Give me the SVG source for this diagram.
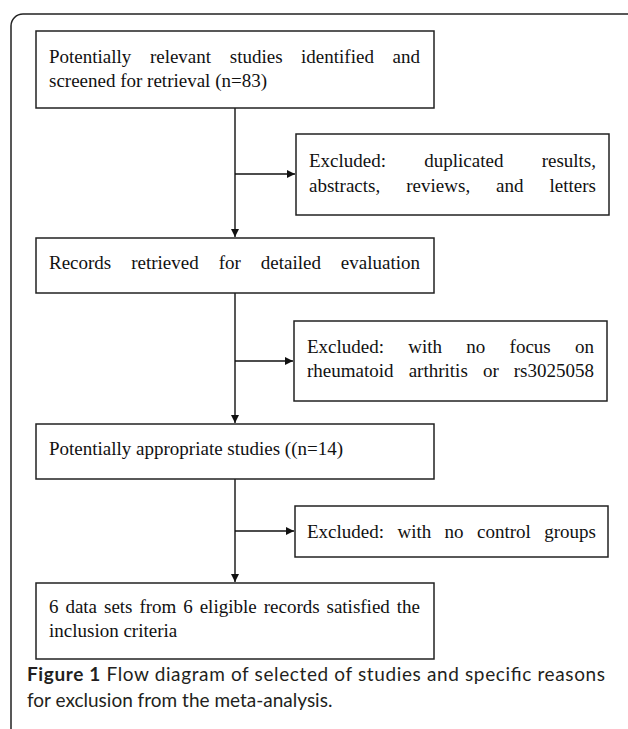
<svg xmlns="http://www.w3.org/2000/svg" width="628" height="729" viewBox="0 0 628 729">
<defs>
<marker id="ah" viewBox="0 0 10 10" refX="10" refY="5" markerWidth="8" markerHeight="8" markerUnits="userSpaceOnUse" orient="auto">
<path d="M0,0 L10,5 L0,10 Z" fill="#111"/>
</marker>
<style>
.box{fill:#fff;stroke:#222;stroke-width:1.5}
.t{font-family:"Liberation Serif","Times New Roman",serif;font-size:19px;fill:#111}
.e{text-anchor:end}
.c{fill:none;stroke:#111;stroke-width:1.4}
.cap{font-family:Lato,"Noto Sans",sans-serif;font-size:19px;fill:#231f20}
</style>
</defs>
<rect width="628" height="729" fill="#fff"/>
<path d="M11,729 V26 A12,12 0 0 1 23,14 H628" fill="none" stroke="#222" stroke-width="1.5"/>

<g id="connectors">
<path class="c" d="M235,108 V237" marker-end="url(#ah)"/>
<path class="c" d="M235,174 H295" marker-end="url(#ah)"/>
<path class="c" d="M235,293 V423" marker-end="url(#ah)"/>
<path class="c" d="M235,361 H293" marker-end="url(#ah)"/>
<path class="c" d="M235,479 V582" marker-end="url(#ah)"/>
<path class="c" d="M235,531 H294" marker-end="url(#ah)"/>
</g>

<g id="n1">
<rect class="box" x="36" y="31" width="398" height="77"/>
<text class="t" y="63"><tspan x="49">Potentially</tspan><tspan x="149.9">relevant</tspan><tspan x="229.8">studies</tspan><tspan x="301.1">identified</tspan></text>
<text class="t e" x="420" y="63">and</text>
<text class="t" x="49" y="87">screened for retrieval (n=83)</text>
</g>

<g id="x1">
<rect class="box" x="296" y="134" width="313" height="81"/>
<text class="t" y="167"><tspan x="309">Excluded:</tspan><tspan x="424.3">duplicated</tspan></text>
<text class="t e" x="596" y="167">results,</text>
<text class="t" y="192"><tspan x="309">abstracts,</tspan><tspan x="406.3">reviews,</tspan><tspan x="496.1">and</tspan></text>
<text class="t e" x="596" y="192">letters</text>
</g>

<g id="n2">
<rect class="box" x="36" y="238" width="398" height="55"/>
<text class="t" y="269"><tspan x="49">Records</tspan><tspan x="131.2">retrieved</tspan><tspan x="218.7">for</tspan><tspan x="260.8">detailed</tspan></text>
<text class="t e" x="420" y="269">evaluation</text>
</g>

<g id="x2">
<rect class="box" x="294" y="321" width="313" height="80"/>
<text class="t" y="353"><tspan x="307">Excluded:</tspan><tspan x="408.3">with</tspan><tspan x="466.3">no</tspan><tspan x="509.6">focus</tspan></text>
<text class="t e" x="594" y="353">on</text>
<text class="t" y="377"><tspan x="307">rheumatoid</tspan><tspan x="408.7">arthritis</tspan><tspan x="482.9">or</tspan></text>
<text class="t e" x="594" y="377">rs3025058</text>
</g>

<g id="n3">
<rect class="box" x="36" y="424" width="398" height="55"/>
<text class="t" x="49" y="455">Potentially appropriate studies ((n=14)</text>
</g>

<g id="x3">
<rect class="box" x="295" y="506" width="313" height="51"/>
<text class="t" y="538"><tspan x="307">Excluded:</tspan><tspan x="397.5">with</tspan><tspan x="444.6">no</tspan><tspan x="477">control</tspan></text>
<text class="t e" x="596" y="538">groups</text>
</g>

<g id="n4">
<rect class="box" x="36" y="583" width="398" height="76"/>
<text class="t" y="613"><tspan x="49">6</tspan><tspan x="65.4">data</tspan><tspan x="104">sets</tspan><tspan x="139.4">from</tspan><tspan x="183.3">6</tspan><tspan x="199.7">eligible</tspan><tspan x="263.7">records</tspan><tspan x="326.5">satisfied</tspan></text>
<text class="t e" x="420" y="613">the</text>
<text class="t" x="49" y="637">inclusion criteria</text>
</g>

<g id="caption">
<text class="cap" x="27" y="681" textLength="578" lengthAdjust="spacing"><tspan font-weight="bold">Figure 1</tspan> Flow diagram of selected of studies and specific reasons</text>
<text class="cap" x="27" y="707">for exclusion from the meta-analysis.</text>
</g>
</svg>
